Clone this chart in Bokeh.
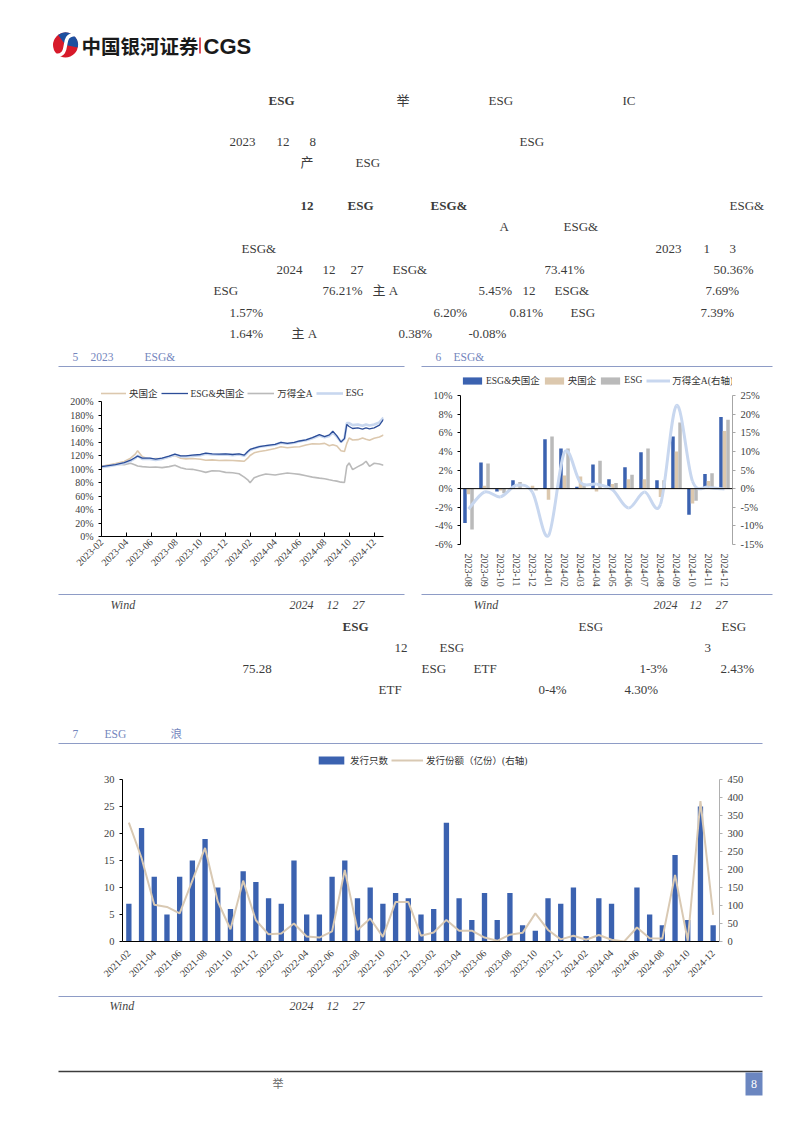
import numpy as np
from math import pi
from bokeh.plotting import figure
from bokeh.models import Range1d, LinearAxis, FixedTicker, NumeralTickFormatter, Legend, LegendItem, Span
from bokeh.layouts import column, row
from bokeh.embed import file_html
from bokeh.resources import INLINE
from bokeh.core.properties import value
from bokeh.transform import dodge

# ---------------- data ----------------
# Fig.5  cumulative value since 2023-01-03 (%), x = trading-day index
t5 = [0, 12, 24, 39, 50, 58, 62, 70, 83, 93, 104, 116, 126, 136, 145, 156, 170, 179, 190, 202,
      213, 225, 236, 245, 251, 255, 262, 271, 282, 298, 308, 319, 331, 340, 351, 362, 374, 383,
      391, 397, 404, 411, 417, 421, 425, 431, 440, 448, 454, 460, 468, 477, 484]
soe5 = [104, 106, 108, 111, 116, 122, 127, 118, 114.5, 115.5, 115, 118, 120, 116, 115, 115.5, 114.5,
        113, 113.5, 112.5, 113, 112.5, 112, 111.5, 116, 120, 124, 126, 127.5, 130.5, 133, 131.5, 132.5,
        133, 135.5, 137.5, 137, 138, 134.5, 136, 134, 127, 126, 138, 146, 143, 143.5, 146, 144, 142.5,
        145.5, 147.5, 150.36]
esg_soe5 = [103.5, 105, 106.5, 109.5, 113, 117, 119, 116, 116, 114.5, 116, 119, 122, 119.5, 119.5, 120.5,
            121.5, 123.5, 122.5, 122, 122.5, 121.5, 122.5, 120.5, 126, 129, 131, 133, 134.5, 136.5, 139.5,
            138, 139.5, 141.5, 143, 146.5, 151, 148, 150.5, 156, 149, 140, 145, 166, 163, 160, 161, 159,
            161, 159.5, 161, 165, 173.41]
wind5 = [104, 105.5, 107, 106.5, 108.5, 106, 104.5, 103.5, 102.5, 103, 102, 103.5, 105.5, 102, 100, 99.5,
         97, 95, 97.5, 97, 95, 94.5, 93, 88, 84, 79.5, 87, 90, 92.5, 91, 92.5, 94, 93, 92, 90, 88, 86.5,
         85.5, 84, 83, 82, 80.5, 80, 104, 109, 99, 103.5, 107, 111.5, 104, 108.5, 107.5, 105.45]
esg5 = [102.5, 104, 106, 108.5, 112, 116, 120, 115, 115, 113.5, 115, 118, 121, 118.5, 118.5, 119.5, 120.5,
        122.5, 121.5, 121, 121.5, 120.5, 121.5, 119.5, 125, 128, 130.5, 133, 134, 136, 139, 137.5, 139,
        141, 142.5, 145.5, 149.5, 147, 149, 154, 148, 140, 145, 168, 168, 165, 166, 164, 166, 164.5,
        166, 169, 176.21]
tick5_pos = [0, 43, 85, 128, 170, 213, 255, 298, 340, 383, 425, 468]
tick5_lab = ["2023-02", "2023-04", "2023-06", "2023-08", "2023-10", "2023-12",
             "2024-02", "2024-04", "2024-06", "2024-08", "2024-10", "2024-12"]

# Fig.6  monthly return (%)
months6 = ["2023-08", "2023-09", "2023-10", "2023-11", "2023-12", "2024-01", "2024-02", "2024-03",
           "2024-04", "2024-05", "2024-06", "2024-07", "2024-08", "2024-09", "2024-10", "2024-11", "2024-12"]
esg_soe6 = [-3.7, 2.8, -0.3, 0.9, 0.05, 5.3, 4.3, 0.2, 2.6, 1.0, 2.3, 3.9, 0.9, 5.6, -2.8, 1.57, 7.69]
soe6 = [-0.6, 0.3, -0.2, 0.1, 0.3, -1.2, 1.4, 1.3, -0.3, 0.5, 1.0, 1.0, -0.9, 4.0, -1.6, 0.81, 6.20]
esg6 = [-4.4, 2.7, -0.5, 0.7, -0.2, 5.6, 4.3, 0.5, 3.0, 0.6, 1.5, 4.3, 0.9, 7.1, -1.3, 1.64, 7.39]
wind6 = [-5.5, -0.9, -2.2, 0.9, -1.0, -12.6, 9.8, 1.6, 1.2, -0.3, -5.2, -0.9, -4.2, 22.3, 2.0, 0.38, -0.08]

# Fig.7  ESG fund issuance
months7 = ["2021-02", "2021-03", "2021-04", "2021-05", "2021-06", "2021-07", "2021-08", "2021-09",
           "2021-10", "2021-11", "2021-12", "2022-01", "2022-02", "2022-03", "2022-04", "2022-05",
           "2022-06", "2022-07", "2022-08", "2022-09", "2022-10", "2022-11", "2022-12", "2023-01",
           "2023-02", "2023-03", "2023-04", "2023-05", "2023-06", "2023-07", "2023-08", "2023-09",
           "2023-10", "2023-11", "2023-12", "2024-01", "2024-02", "2024-03", "2024-04", "2024-05",
           "2024-06", "2024-07", "2024-08", "2024-09", "2024-10", "2024-11", "2024-12"]
count7 = [7, 21, 12, 5, 12, 15, 19, 10, 6, 13, 11, 8, 7, 15, 5, 5, 12, 15, 8, 10, 7, 9, 8, 5, 6, 22,
          8, 4, 9, 4, 9, 3, 2, 8, 7, 10, 1, 8, 7, 0, 10, 5, 3, 16, 4, 25, 3]
share7 = [330, 232, 102, 96, 78, 169, 260, 111, 34, 169, 59, 20, 22, 50, 14, 11, 28, 199, 32, 64, 13,
          110, 110, 16, 25, 60, 30, 30, 11, 2, 19, 24, 78, 32, 6, 16, 5, 18, 5, 0, 39, 9, 8, 185, 2, 390, 74]

# ---------------- styles ----------------
SERIF = "Liberation Serif, Noto Sans CJK SC, serif"
CJK = "Noto Sans CJK SC, sans-serif"
TXT = "#3b3b3b"
TITLE_C = "#7486bd"
RULE_C = "#8e9cc6"
AX_C = "#404040"
BLUE = "#3b62b0"
BEIGE = "#dcc8ae"
GRAY = "#bababa"
LBLUE = "#c8d7ef"
DBLUE = "#2c4d98"
W = 802


def page_fig(y0, y1, x0=0, x1=W):
    p = figure(width=x1 - x0, height=y1 - y0, x_range=Range1d(x0, x1), y_range=Range1d(y1, y0),
               x_axis_type=None, y_axis_type=None, toolbar_location=None, output_backend="svg",
               min_border=0, outline_line_color=None)
    return p


def put(p, x, y, s, size=13, style="normal", color=TXT, font=SERIF, align="left"):
    p.text(x=[x], y=[y], text=[s], text_font=value(font), text_font_size=f"{size}px",
           text_font_style=style, text_color=color, text_align=align, text_baseline="middle")


def rule(p, x0, x1, y, color=RULE_C, w=1.2):
    p.segment(x0=[x0], y0=[y], x1=[x1], y1=[y], line_color=color, line_width=w)


def style_axis(ax, size="10px"):
    ax.major_label_text_font = SERIF
    ax.major_label_text_font_size = size
    ax.major_label_text_color = AX_C
    ax.minor_tick_line_color = None


def make_legend(items, loc, gw, gh, size, standoff=3, spacing=3):
    return Legend(items=items, location=loc, orientation="horizontal", glyph_width=gw, glyph_height=gh,
                  label_height=gh, label_standoff=standoff, spacing=spacing, padding=0, margin=0,
                  border_line_alpha=0, background_fill_alpha=0,
                  label_text_font=SERIF, label_text_font_size=size, label_text_color="#333333")


# ---------------- top page block ----------------
pa = page_fig(0, 372)
# logo
pa.circle(x=[65], y=[44.5], radius=12.5, fill_color="#d71a2a", line_color=None)
pa.wedge(x=[65], y=[44.5], radius=12.5, start_angle=-0.2, end_angle=2.2, fill_color="#1d4f9f", line_color=None)
pa.bezier(x0=[75], y0=[34], x1=[55], y1=[55], cx0=[58], cy0=[34], cx1=[72], cy1=[55],
          line_color="white", line_width=3.5)
put(pa, 81, 45, "中国银河证券", size=19.5, style="bold", color="#1a1a1a", font=CJK)
pa.segment(x0=[199.5], y0=[37], x1=[199.5], y1=[53], line_color="#d71a2a", line_width=1.5)
put(pa, 203, 46, "CGS", size=22, style="bold", color="#1a1a1a", font="Liberation Sans")

body_a = [
    (268, 100, "ESG", "bold"), (396, 100, "举", "normal"), (488, 100, "ESG", "normal"), (622, 100, "IC", "normal"),
    (229, 141, "2023", "normal"), (276, 141, "12", "normal"), (309, 141, "8", "normal"), (519, 141, "ESG", "normal"),
    (300, 162, "产", "normal"), (355, 162, "ESG", "normal"),
    (300, 205, "12", "bold"), (347, 205, "ESG", "bold"), (430, 205, "ESG&", "bold"), (729, 205, "ESG&", "normal"),
    (499, 226, "A", "normal"), (563, 226, "ESG&", "normal"),
    (241, 248, "ESG&", "normal"), (655, 248, "2023", "normal"), (703, 248, "1", "normal"), (729, 248, "3", "normal"),
    (276, 269, "2024", "normal"), (322, 269, "12", "normal"), (350, 269, "27", "normal"), (392, 269, "ESG&", "normal"),
    (544, 269, "73.41%", "normal"), (713, 269, "50.36%", "normal"),
    (213, 290, "ESG", "normal"), (322, 290, "76.21%", "normal"), (372, 290, "主 A", "normal"),
    (478, 290, "5.45%", "normal"), (522, 290, "12", "normal"), (554, 290, "ESG&", "normal"), (705, 290, "7.69%", "normal"),
    (229, 312, "1.57%", "normal"), (433, 312, "6.20%", "normal"), (509, 312, "0.81%", "normal"),
    (570, 312, "ESG", "normal"), (700, 312, "7.39%", "normal"),
    (229, 333, "1.64%", "normal"), (291, 333, "主 A", "normal"), (398, 333, "0.38%", "normal"), (468, 333, "-0.08%", "normal"),
]
for x, y, s, st in body_a:
    put(pa, x, y, s, size=13, style=st)

put(pa, 72, 356, "5", size=11.5, color=TITLE_C)
put(pa, 90, 356, "2023", size=11.5, color=TITLE_C)
put(pa, 144, 356, "ESG&", size=11.5, color=TITLE_C)
put(pa, 435, 356, "6", size=11.5, color=TITLE_C)
put(pa, 453, 356, "ESG&", size=11.5, color=TITLE_C)
rule(pa, 58, 404, 366)
rule(pa, 421, 772, 366)

# ---------------- Fig 5 ----------------
# frame spans page y 386..536; 0%..200% occupy 536..401 -> the top 15 px hold the legend
p5 = figure(width=416, height=218, x_range=Range1d(0, 484), y_range=Range1d(0, 2.0 * 150 / 135),
            toolbar_location=None, output_backend="svg", outline_line_color=None,
            min_border_left=101, min_border_right=33, min_border_top=14, min_border_bottom=54)
p5.grid.visible = False
r_wind = p5.line(t5, [v / 100 for v in wind5], line_color=GRAY, line_width=1.6)
r_soe = p5.line(t5, [v / 100 for v in soe5], line_color=BEIGE, line_width=1.6)
r_esg = p5.line(t5, [v / 100 for v in esg5], line_color=LBLUE, line_width=2.6)
r_es = p5.line(t5, [v / 100 for v in esg_soe5], line_color=DBLUE, line_width=1.3)
xa = p5.xaxis[0]
xa.ticker = FixedTicker(ticks=tick5_pos)
xa.major_label_overrides = {k: v for k, v in zip(tick5_pos, tick5_lab)}
xa.major_label_orientation = pi / 4
xa.axis_line_color = "black"
xa.major_tick_in = 4
xa.major_tick_out = 0
xa.major_label_standoff = 4
style_axis(xa)
ya = p5.yaxis[0]
ya.ticker = FixedTicker(ticks=[i * 0.2 for i in range(11)])
ya.formatter = NumeralTickFormatter(format="0%")
ya.bounds = (0, 2.0)
ya.axis_line_color = "black"
ya.major_tick_in = 0
ya.major_tick_out = 3
style_axis(ya)
leg5 = make_legend([LegendItem(label="央国企", renderers=[r_soe]),
                    LegendItem(label="ESG&央国企", renderers=[r_es]),
                    LegendItem(label="万得全A", renderers=[r_wind]),
                    LegendItem(label="ESG", renderers=[r_esg])],
                   (-2, 136), 27, 12, "9.5px")
p5.add_layout(leg5)

# ---------------- Fig 6 ----------------
# frame spans page y 375..544; -6%..10% occupy 544..395 -> the top 20 px hold the legend
x6 = list(range(len(months6)))
ext6 = 169 / 149
p6 = figure(width=386, height=218, x_range=Range1d(-0.5, len(months6) - 0.5),
            y_range=Range1d(-0.06, -0.06 + 0.16 * ext6),
            toolbar_location=None, output_backend="svg", outline_line_color=None,
            min_border_left=44, min_border_right=70, min_border_top=3, min_border_bottom=46)
p6.grid.visible = False
p6.extra_y_ranges = {"r": Range1d(-0.15, -0.15 + 0.40 * ext6)}
src6 = dict(x=x6, a=[v / 100 for v in esg_soe6], b=[v / 100 for v in soe6], c=[v / 100 for v in esg6])
rb1 = p6.vbar(x=dodge("x", -0.22), top="a", width=0.22, source=src6, fill_color=BLUE, line_color=None)
rb2 = p6.vbar(x=dodge("x", 0.0), top="b", width=0.22, source=src6, fill_color=BEIGE, line_color=None)
rb3 = p6.vbar(x=dodge("x", 0.22), top="c", width=0.22, source=src6, fill_color=GRAY, line_color=None)
p6.add_layout(Span(location=0, dimension="width", line_color="black", line_width=1))
# smooth (Catmull-Rom) curve through the monthly points of the Wind All-A index
xs = np.array(x6, dtype=float)
ys = np.array(wind6) / 100
xp = np.concatenate([[xs[0]], xs, [xs[-1]]])
yp = np.concatenate([[ys[0]], ys, [ys[-1]]])
i = np.arange(len(xs) - 1)
r_l6 = p6.bezier(x0=xp[i + 1], y0=yp[i + 1], x1=xp[i + 2], y1=yp[i + 2],
                 cx0=xp[i + 1] + (xp[i + 2] - xp[i]) / 6, cy0=yp[i + 1] + (yp[i + 2] - yp[i]) / 6,
                 cx1=xp[i + 2] - (xp[i + 3] - xp[i + 1]) / 6, cy1=yp[i + 2] - (yp[i + 3] - yp[i + 1]) / 6,
                 line_color=LBLUE, line_width=3, y_range_name="r")
xa6 = p6.xaxis[0]
xa6.ticker = FixedTicker(ticks=x6)
xa6.major_label_overrides = {k: v for k, v in zip(x6, months6)}
xa6.major_label_orientation = "vertical"
xa6.axis_line_color = None
xa6.major_tick_line_color = None
xa6.major_label_standoff = 3
style_axis(xa6)
ya6 = p6.yaxis[0]
ya6.ticker = FixedTicker(ticks=[-0.06, -0.04, -0.02, 0, 0.02, 0.04, 0.06, 0.08, 0.10])
ya6.formatter = NumeralTickFormatter(format="0%")
ya6.bounds = (-0.06, 0.10)
ya6.axis_line_color = "black"
ya6.major_tick_in = 0
ya6.major_tick_out = 3
style_axis(ya6, "10.5px")
ry6 = LinearAxis(y_range_name="r", ticker=FixedTicker(ticks=[-0.15, -0.10, -0.05, 0, 0.05, 0.10, 0.15, 0.20, 0.25]),
                 formatter=NumeralTickFormatter(format="0%"), bounds=(-0.15, 0.25))
ry6.axis_line_color = "#a6a6a6"
ry6.major_tick_line_color = "#a6a6a6"
ry6.major_tick_in = 0
ry6.major_tick_out = 3
style_axis(ry6, "10.5px")
p6.add_layout(ry6, "right")
leg6 = make_legend([LegendItem(label="ESG&央国企", renderers=[rb1]),
                    LegendItem(label="央国企", renderers=[rb2]),
                    LegendItem(label="ESG", renderers=[rb3]),
                    LegendItem(label="万得全A(右轴)", renderers=[r_l6])],
                   (0, 157), 24, 9, "9.5px", standoff=2, spacing=2)
p6.add_layout(leg6)

# ---------------- middle page block ----------------
pc = page_fig(590, 752)
rule(pc, 58, 404, 594)
rule(pc, 421, 772, 594)
for x, s in [(110, "Wind"), (289, "2024"), (326, "12"), (352, "27"),
             (473, "Wind"), (653, "2024"), (689, "12"), (715, "27")]:
    put(pc, x, 604, s, size=12, style="italic", color="#444444")
body_c = [
    (342, 626, "ESG", "bold"), (578, 626, "ESG", "normal"), (721, 626, "ESG", "normal"),
    (394, 647, "12", "normal"), (439, 647, "ESG", "normal"), (704, 647, "3", "normal"),
    (242, 668, "75.28", "normal"), (421, 668, "ESG", "normal"), (473, 668, "ETF", "normal"),
    (639, 668, "1-3%", "normal"), (720, 668, "2.43%", "normal"),
    (378, 689, "ETF", "normal"), (538, 689, "0-4%", "normal"), (624, 689, "4.30%", "normal"),
]
for x, y, s, st in body_c:
    put(pc, x, y, s, size=13, style=st)
put(pc, 72, 733, "7", size=11.5, color=TITLE_C)
put(pc, 104, 733, "ESG", size=11.5, color=TITLE_C)
put(pc, 170, 733, "浪", size=11.5, color=TITLE_C)
rule(pc, 58, 762, 743)

# ---------------- Fig 7 ----------------
# frame spans page y 755..941; 0..30 occupy 941..779 -> the top 24 px hold the legend
x7 = list(range(len(months7)))
ext7 = 186 / 162
p7 = figure(width=W, height=241, x_range=Range1d(-0.5, len(months7) - 0.5), y_range=Range1d(0, 30 * ext7),
            toolbar_location=None, output_backend="svg", outline_line_color=None,
            min_border_left=122, min_border_right=83, min_border_top=3, min_border_bottom=52)
p7.grid.visible = False
p7.extra_y_ranges = {"r": Range1d(0, 450 * ext7)}
rb7 = p7.vbar(x=x7, top=count7, width=0.42, fill_color=BLUE, line_color=None)
rl7 = p7.line(x=x7, y=share7, line_color="#d9c9b3", line_width=2, y_range_name="r")
xa7 = p7.xaxis[0]
xa7.ticker = FixedTicker(ticks=x7[0::2])
xa7.major_label_overrides = {k: months7[k] for k in x7[0::2]}
xa7.major_label_orientation = pi / 4
xa7.axis_line_color = "black"
xa7.major_tick_line_color = None
xa7.major_label_standoff = 4
style_axis(xa7)
ya7 = p7.yaxis[0]
ya7.ticker = FixedTicker(ticks=list(range(0, 31, 5)))
ya7.bounds = (0, 30)
ya7.axis_line_color = "black"
ya7.major_tick_in = 0
ya7.major_tick_out = 3
style_axis(ya7, "10.5px")
ry7 = LinearAxis(y_range_name="r", ticker=FixedTicker(ticks=list(range(0, 451, 50))), bounds=(0, 450))
ry7.axis_line_color = "#b0b0b0"
ry7.major_tick_line_color = "#b0b0b0"
ry7.major_tick_in = 0
ry7.major_tick_out = 3
style_axis(ry7, "10.5px")
p7.add_layout(ry7, "right")
leg7 = make_legend([LegendItem(label="发行只数", renderers=[rb7]),
                    LegendItem(label="发行份额（亿份）(右轴)", renderers=[rl7])],
                   (193, 174), 32, 10, "9.5px")
p7.add_layout(leg7)

# ---------------- bottom page block ----------------
pe = page_fig(993, 1133)
rule(pe, 58, 762, 996)
for x, s in [(109, "Wind"), (289, "2024"), (326, "12"), (352, "27")]:
    put(pe, x, 1005, s, size=12, style="italic", color="#444444")
rule(pe, 58, 762, 1071, color="#3c3c3c", w=1.3)
put(pe, 272, 1083, "举", size=11, color="#666666")
pe.quad(left=[745], right=[762], top=[1072], bottom=[1095], fill_color="#6b86c0", line_color=None)
put(pe, 753.5, 1083.5, "8", size=12, color="white", align="center")

layout = column(pa, row(row(p5), row(p6), spacing=0), pc, row(p7), pe, spacing=0)
open("out.html", "w").write(file_html(layout, INLINE))
